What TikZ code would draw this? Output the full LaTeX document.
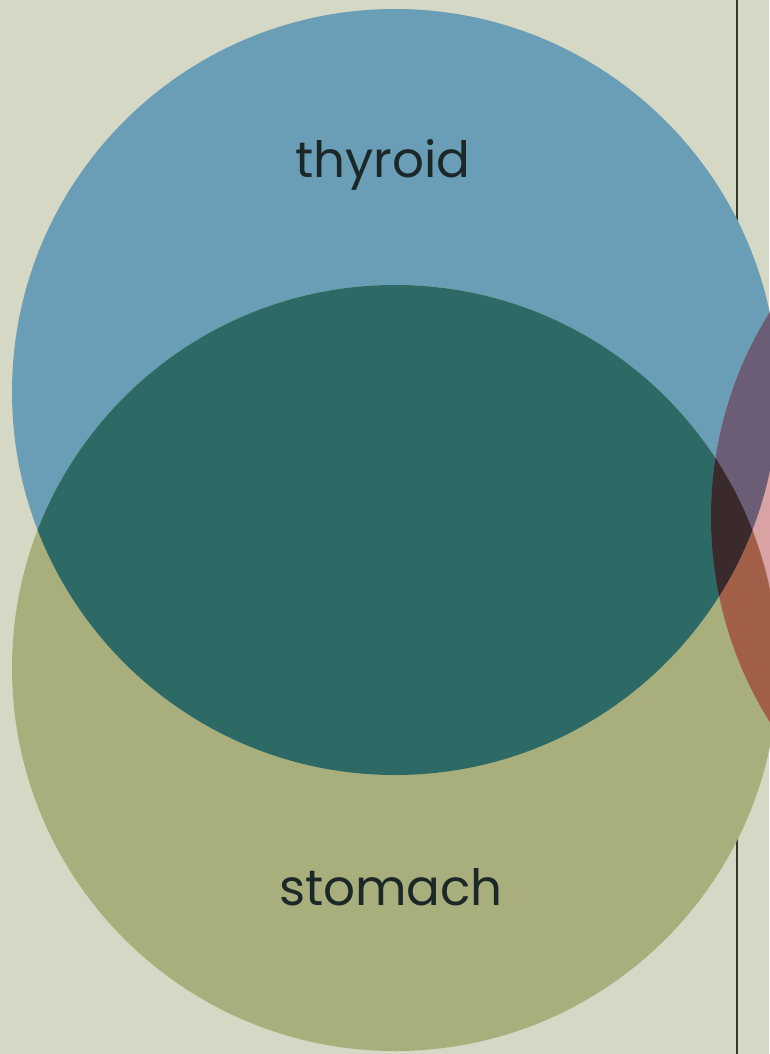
\documentclass[tikz,border=0pt]{standalone}
\usepackage{fontspec}
\setmainfont{Poppins}
\definecolor{paper}{HTML}{D5D8C4}
\definecolor{thyblue}{HTML}{6A9DB6}
\definecolor{stgreen}{HTML}{A8AF7C}
\definecolor{teal}{HTML}{2E6A65}
\definecolor{pinkc}{HTML}{D8A3A2}
\definecolor{purplec}{HTML}{6B5D76}
\definecolor{brownc}{HTML}{A25F48}
\definecolor{darkc}{HTML}{3B2A2B}
\definecolor{inkc}{HTML}{1C2828}
\definecolor{rulec}{HTML}{3A3628}
\tikzset{
  lbl/.style={text=inkc, font=\fontsize{50}{50}\selectfont, inner sep=0pt, anchor=base},
}
\begin{document}
\begin{tikzpicture}[x=1pt,y=-1pt]
\fill[paper] (0,0) rectangle (769,1054);
\useasboundingbox (0,0) rectangle (769,1054);
% vertical rule
\coordinate (rt) at (737,0);
\coordinate (rb) at (737,1054);
\draw[rulec, line width=2.5pt] (rt) -- (rb);
% circles
\def\thy{(395,392) circle[radius=383]}
\def\sto{(395,668) circle[radius=383]}
\def\pnk{(1098,517) circle[radius=387]}
\fill[thyblue] \thy;
\fill[stgreen] \sto;
\fill[pinkc] \pnk;
\begin{scope}
  \clip \sto;
  \fill[brownc] \pnk;
\end{scope}
\begin{scope}
  \clip \thy;
  \fill[teal] \sto;
  \fill[purplec] \pnk;
  \clip \sto;
  \fill[darkc] \pnk;
\end{scope}
% labels
\node[lbl] (thyroid) at (383,177) {thyroid};
\node[lbl] (stomach) at (391,905) {stomach};
\end{tikzpicture}
\end{document}
